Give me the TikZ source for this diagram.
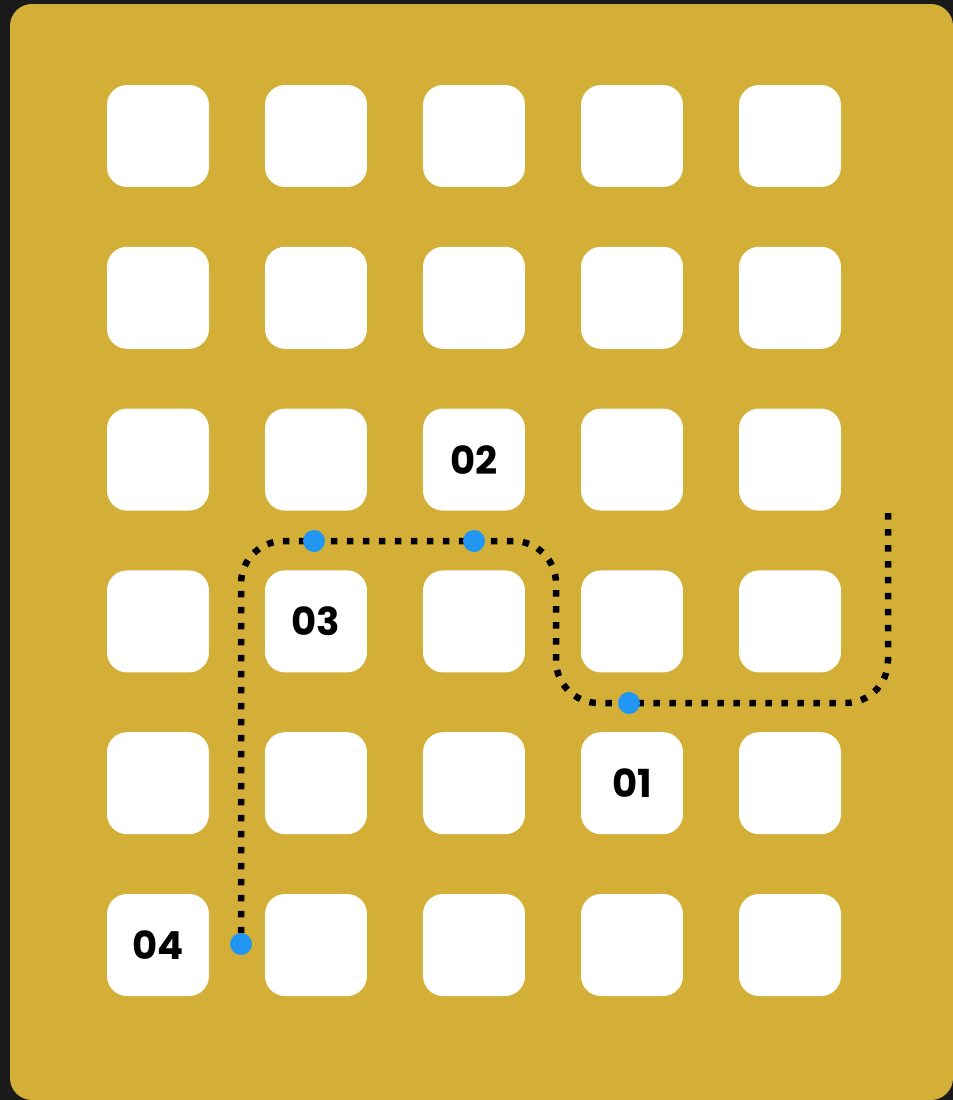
\documentclass[tikz,border=0pt]{standalone}
\usepackage{fontspec}
\setsansfont{Poppins}
\usetikzlibrary{positioning}
\definecolor{cgold}{HTML}{D4AF37}
\definecolor{cdark}{HTML}{1A1A1A}
\definecolor{cblue}{HTML}{2196F3}
\tikzset{
  every picture/.style={font=\sffamily\bfseries},
  tile/.style={fill=white, rounded corners=0.4cm, minimum width=2.04cm, minimum height=2.04cm, inner sep=0pt},
  tilelabel/.style={font=\sffamily\bfseries\fontsize{22}{24}\selectfont},
  route/.style={draw=black, line width=0.13cm, dash pattern=on 0.13cm off 0.19cm, rounded corners=0.85cm},
  stop/.style={circle, fill=cblue, minimum size=0.44cm, inner sep=0pt},
}
\begin{document}
\begin{tikzpicture}[x=0.02cm, y=-0.02cm]
  % background and panel
  \fill[cdark] (0,0) rectangle (953,1100);
  \fill[cgold, rounded corners=0.44cm] (10,4) rectangle (953,1100);
  \useasboundingbox (0,0) rectangle (953,1100);
  % grid of tiles
  \foreach \r in {1,...,6}
    \foreach \c in {1,...,5}
      \node[tile] (tile-\r-\c) at ({158*\c}, {136+161.8*(\r-1)}) {};
  % numbered tiles
  \foreach \t/\lbl in {5-4/01, 3-3/02, 4-2/03, 6-1/04}
    \node[tilelabel] (label-\lbl) at (tile-\t) {\lbl};
  % route
  \coordinate (start) at (888,513);
  \coordinate (bendA) at (888,703);
  \coordinate (bendB) at (556,703);
  \coordinate (bendC) at (556,541);
  \coordinate (bendD) at (241,541);
  \coordinate (finish) at (241,944);
  \draw[route] (start) -- (bendA) -- (bendB) -- (bendC) -- (bendD) -- (finish);
  % stops
  \node[stop] (stop-1) at (629,703) {};
  \node[stop] (stop-2) at (474,541) {};
  \node[stop] (stop-3) at (314,541) {};
  \node[stop] (stop-4) at (finish) {};
\end{tikzpicture}
\end{document}
